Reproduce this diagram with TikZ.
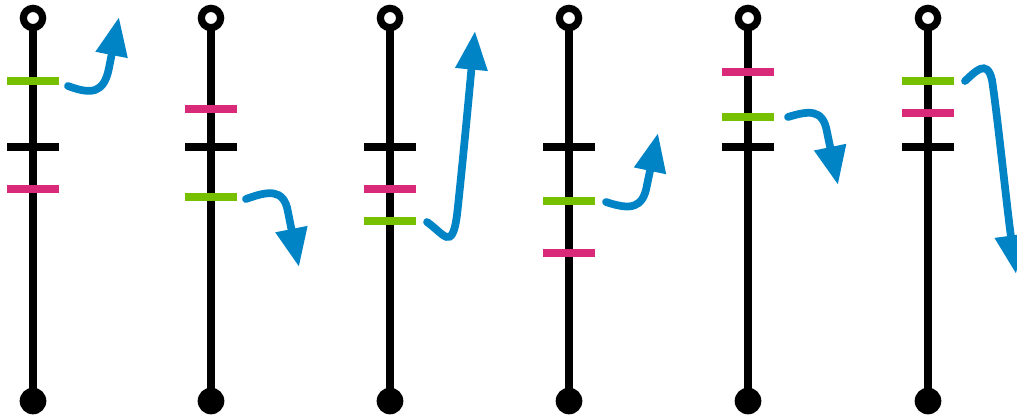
\documentclass[tikz,border=0pt]{standalone}
\usetikzlibrary{arrows.meta}
\definecolor{tgreen}{HTML}{76C000}
\definecolor{tpink}{HTML}{D92A7A}
\definecolor{tblue}{HTML}{0084C6}
\tikzset{
  rail/.style={line width=5.6pt, black},
  endopen/.style={circle, draw=black, line width=5.4pt, fill=white, minimum size=14.5pt, inner sep=0pt},
  endfull/.style={circle, fill=black, minimum size=20pt, inner sep=0pt},
  tick/.style={line width=5.6pt},
  flow/.style={tblue, line width=5.8pt, line cap=round,
    -{Triangle[length=29pt, width=23pt]}},
}
\begin{document}
\begin{tikzpicture}[x=0.75pt, y=-0.75pt]
\useasboundingbox (0,0) rectangle (1017,414);

% rails: open terminal on top, filled terminal at the bottom
\foreach \i/\x in {1/33, 2/211, 3/390, 4/569, 5/748, 6/928} {
  \coordinate (top\i) at (\x,18);
  \coordinate (bot\i) at (\x,401);
  \draw[rail] (top\i) -- (bot\i);
  \node[endopen] (o\i) at (top\i) {};
  \node[endfull] (f\i) at (bot\i) {};
}

% marks across each rail: column / y / colour
\foreach \i/\x/\y/\c in {
  1/33/81/tgreen, 1/33/147/black, 1/33/189/tpink,
  2/211/109/tpink, 2/211/147/black, 2/211/197/tgreen,
  3/390/147/black, 3/390/189/tpink, 3/390/221/tgreen,
  4/569/147/black, 4/569/201/tgreen, 4/569/253/tpink,
  5/748/72/tpink, 5/748/117/tgreen, 5/748/147/black,
  6/928/81/tgreen, 6/928/113/tpink, 6/928/147/black} {
  \draw[tick, \c] (\x-26,\y) -- (\x+26,\y);
}

% arrow anchors
\coordinate (s1) at (68,86);   \coordinate (t1) at (119,17);
\coordinate (s2) at (246,199); \coordinate (t2) at (299,267);
\coordinate (s3) at (427,222); \coordinate (t3) at (475,31);
\coordinate (s4) at (606,202); \coordinate (t4) at (658,133);
\coordinate (s5) at (788,117); \coordinate (t5) at (838,185);
\coordinate (s6) at (965,81);  \coordinate (t6) at (1016,274);

\draw[flow] (s1) .. controls (92,95) and (104,93) .. (109,68) -- (t1);
\draw[flow] (s2) .. controls (268,191) and (284,188) .. (288,212) -- (t2);
\draw[flow] (s3) .. controls (444,234) and (452,252) .. (457,215)
                .. controls (462,170) and (469,95) .. (t3);
\draw[flow] (s4) .. controls (630,210) and (643,209) .. (647,185) -- (t4);
\draw[flow] (s5) .. controls (808,111) and (823,108) .. (827,132) -- (t5);
\draw[flow] (s6) .. controls (975,72) and (987,58) .. (992,80)
                .. controls (998,120) and (1006,200) .. (t6);
\end{tikzpicture}
\end{document}
